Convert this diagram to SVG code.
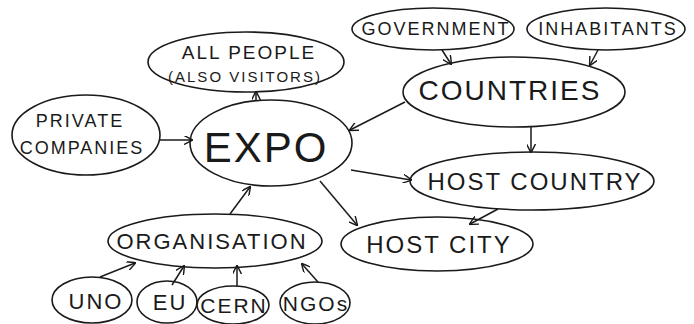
<svg xmlns="http://www.w3.org/2000/svg" width="694" height="324" viewBox="0 0 694 324">
<defs>
<style>
.n ellipse{fill:#fff;stroke:#1a1a1a;stroke-width:1.6}
.n text{font-family:"Liberation Sans",Arial,sans-serif;fill:#1a1a1a;text-anchor:middle;dominant-baseline:central;font-weight:normal;letter-spacing:2px}
#edges line{stroke:#1a1a1a;stroke-width:1.5;fill:none;marker-end:url(#a)}
</style>
<marker id="a" viewBox="0 0 10 10" refX="9" refY="5" markerWidth="9" markerHeight="9" markerUnits="userSpaceOnUse" orient="auto">
<path d="M0,0 L10,5 L0,10" fill="none" stroke="#1a1a1a" stroke-width="1.6"/>
</marker>
</defs>
<rect width="694" height="324" fill="#fff"/>
<g id="expo" class="n"><ellipse cx="271" cy="143" rx="81" ry="43"/><text x="266" y="147" font-size="42">EXPO</text></g>
<g id="allpeople" class="n"><ellipse cx="246" cy="62" rx="98" ry="30"/><text x="249" y="52" font-size="19">ALL PEOPLE</text><text x="245" y="76" font-size="15" letter-spacing="1">(ALSO VISITORS)</text></g>
<g id="private" class="n"><ellipse cx="86" cy="135" rx="74" ry="40"/><text x="80" y="121" font-size="18">PRIVATE</text><text x="82" y="148" font-size="18">COMPANIES</text></g>
<g id="government" class="n"><ellipse cx="433" cy="29" rx="81" ry="21"/><text x="436" y="29" font-size="18" letter-spacing="1">GOVERNMENT</text></g>
<g id="inhabitants" class="n"><ellipse cx="606" cy="29" rx="79" ry="21"/><text x="608" y="29" font-size="18" letter-spacing="1">INHABITANTS</text></g>
<g id="countries" class="n"><ellipse cx="514" cy="92" rx="111" ry="35"/><text x="510" y="90" font-size="28" letter-spacing="3">COUNTRIES</text></g>
<g id="hostcountry" class="n"><ellipse cx="532" cy="181" rx="122" ry="29"/><text x="535" y="181" font-size="24" letter-spacing="2">HOST COUNTRY</text></g>
<g id="hostcity" class="n"><ellipse cx="437" cy="244" rx="96" ry="27"/><text x="439" y="244" font-size="24" letter-spacing="2">HOST CITY</text></g>
<g id="organisation" class="n"><ellipse cx="215" cy="241" rx="107" ry="27"/><text x="212" y="241" font-size="22" letter-spacing="1">ORGANISATION</text></g>
<g id="uno" class="n"><ellipse cx="92" cy="300" rx="40" ry="23"/><text x="96" y="301" font-size="22" letter-spacing="1">UNO</text></g>
<g id="eu" class="n"><ellipse cx="167" cy="302" rx="30" ry="21"/><text x="170" y="302" font-size="22" letter-spacing="1">EU</text></g>
<g id="cern" class="n"><ellipse cx="233" cy="305" rx="36" ry="19"/><text x="234" y="305" font-size="21" letter-spacing="0">CERN</text></g>
<g id="ngos" class="n"><ellipse cx="315" cy="303" rx="35" ry="21"/><text x="316" y="303" font-size="21" letter-spacing="0">NGOs</text></g>
<g id="edges">
<line x1="160" y1="140" x2="192" y2="140"/>
<line x1="256" y1="100" x2="256" y2="92"/>
<line x1="405" y1="102" x2="350" y2="130"/>
<line x1="531" y1="127" x2="531" y2="152"/>
<line x1="442" y1="50" x2="451" y2="64"/>
<line x1="598" y1="50" x2="590" y2="65"/>
<line x1="351" y1="170" x2="411" y2="180"/>
<line x1="320" y1="181" x2="357" y2="225"/>
<line x1="498" y1="209" x2="470" y2="224"/>
<line x1="230" y1="214" x2="250" y2="187"/>
<line x1="100" y1="277" x2="135" y2="263"/>
<line x1="172" y1="285" x2="184" y2="266"/>
<line x1="237" y1="286" x2="237" y2="266"/>
<line x1="318" y1="282" x2="302" y2="264"/>
</g>
</svg>
